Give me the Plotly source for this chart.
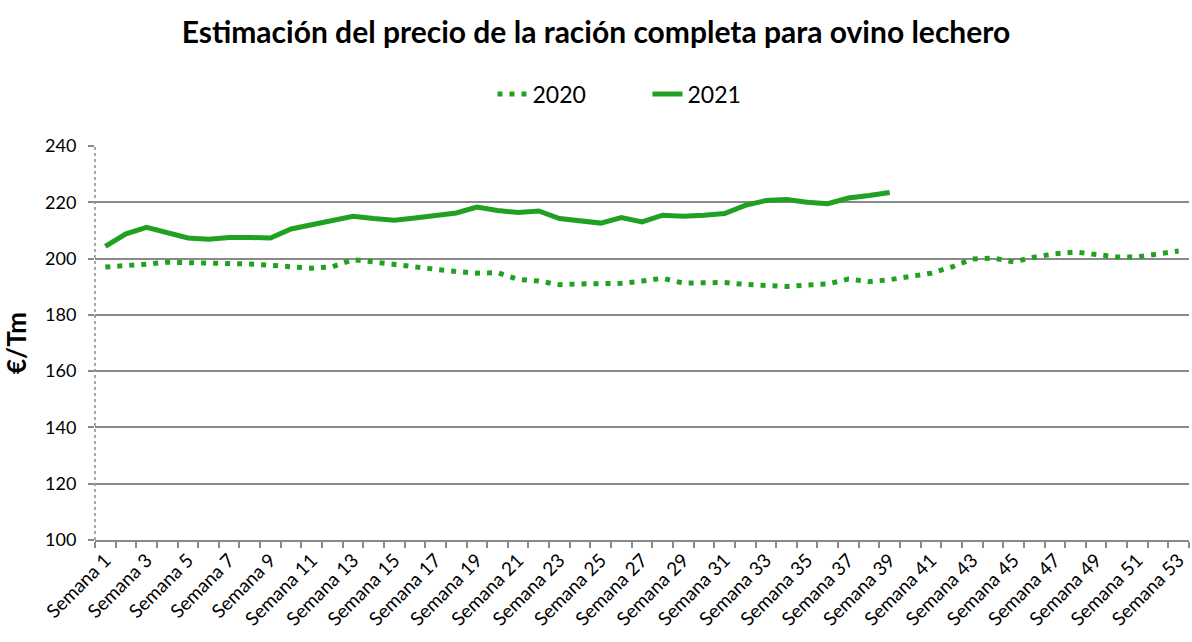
import plotly.graph_objects as go

weeks = list(range(1, 54))
week_labels = [f"Semana {w}" for w in weeks]

price_2020 = [197.0, 197.3, 198.0, 198.7, 198.6, 198.2, 198.1, 198.1, 197.6, 197.0,
              196.6, 197.1, 199.6, 198.8, 197.8, 197.0, 196.2, 195.4, 194.8, 195.0,
              192.6, 192.0, 190.7, 191.0, 191.2, 191.2, 192.0, 193.0, 191.3, 191.4,
              191.5, 190.8, 190.4, 190.1, 190.6, 191.0, 192.7, 191.8, 192.5, 193.5,
              194.8, 197.0, 199.8, 200.2, 198.8, 200.5, 201.7, 202.3, 201.6, 200.6,
              200.6, 201.6, 202.7]

price_2021 = [204.3, 208.8, 211.1, 209.0, 207.3, 206.9, 207.5, 207.5, 207.3, 210.5,
              212.0, 213.6, 215.0, 214.2, 213.6, 214.4, 215.5, 216.2, 218.3, 217.1,
              216.4, 216.9, 214.2, 213.2, 212.6, 214.6, 213.0, 215.4, 215.0, 215.4,
              216.0, 218.9, 220.6, 221.0, 220.0, 219.5, 221.5, 222.4, 223.5]

y_ticks = [100, 120, 140, 160, 180, 200, 220, 240]

GREEN = "#21A121"
GRID = "#898989"
FONT = "Lato"

fig = go.Figure()
fig.add_trace(go.Scatter(
    x=weeks, y=price_2020, name="2020", mode="lines",
    line=dict(color=GREEN, width=5, dash="5px,7px"),
))
fig.add_trace(go.Scatter(
    x=weeks[:len(price_2021)], y=price_2021, name="2021", mode="lines",
    line=dict(color=GREEN, width=5),
))

fig.update_layout(
    width=1192, height=642,
    margin=dict(l=95, r=3, t=146, b=102),
    paper_bgcolor="white", plot_bgcolor="white",
    font=dict(family=FONT, color="black"),
    title=dict(text="<b>Estimación del precio de la ración completa para ovino lechero</b>",
               x=0.5, xanchor="center", xref="container", yref="container",
               y=1 - 32 / 642, yanchor="middle",
               font=dict(size=30, family=FONT, color="black"), automargin=False),
    legend=dict(orientation="h", x=0.505, xanchor="center", y=(540 - 94) / 394, yanchor="middle",
                font=dict(size=23, family=FONT), entrywidth=110, entrywidthmode="pixels"),
    showlegend=True,
)

fig.update_xaxes(
    range=[0.5, 53.5], tickmode="array",
    tickvals=weeks[::2], ticktext=week_labels[::2],
    tickangle=-45, tickfont=dict(size=19, family=FONT),
    ticks="", showgrid=False, zeroline=False, automargin=False,
    showline=True, linecolor=GRID, linewidth=1.5,
    minor=dict(ticks="outside", tick0=0.5, dtick=1, ticklen=6,
               tickcolor=GRID, tickwidth=1.5, showgrid=False),
)
fig.update_yaxes(
    range=[100, 240], tickmode="array", tickvals=y_ticks,
    tickfont=dict(size=18, family=FONT), ticklabelstandoff=8,
    showgrid=True, gridcolor=GRID, gridwidth=1.5,
    ticks="outside", ticklen=6, tickcolor=GRID, tickwidth=1.5,
    zeroline=False, showline=False, automargin=False,
    title=dict(text="<b>€/Tm</b>", font=dict(size=26, family=FONT), standoff=10),
)

fig.add_shape(type="line", xref="paper", yref="paper", x0=0, x1=0, y0=0, y1=1,
              line=dict(color=GRID, width=1.5, dash="dot"))

fig.write_html("out.html", config={"displayModeBar": False},
               post_script="document.body.style.margin='0';")
